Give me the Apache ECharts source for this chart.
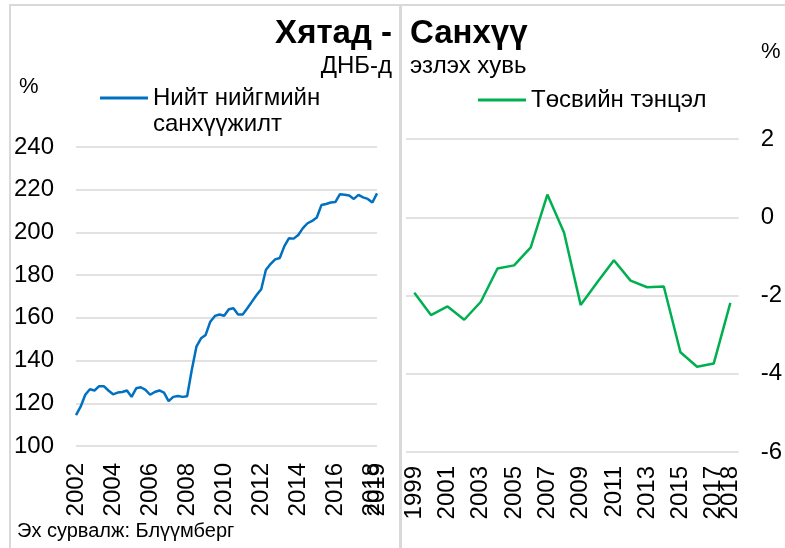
<!DOCTYPE html>
<html>
<head>
<meta charset="utf-8">
<script src="https://cdn.jsdelivr.net/npm/echarts@6/dist/echarts.min.js"></script>
<style>
  html, body { margin: 0; padding: 0; background: #fff; }
  #chart { width: 785px; height: 548px; }
</style>
</head>
<body>
<div id="chart"></div>
<script>
const FONT = '"Liberation Sans", Arial, sans-serif';

// China: total social financing, % of GDP (quarterly from 2002 Q1)
const financeStartYear = 2002;
const financeEndLabel = '2019';
const socialFinance = [
  114.5, 118.4, 124.0, 126.6, 126.0, 128.0, 128.0, 126.0,
  124.2, 125.0, 125.3, 126.0, 123.0, 127.0, 127.5, 126.3,
  124.0, 125.3, 126.0, 125.0, 121.0, 123.0, 123.4, 123.0,
  123.3, 135.6, 146.5, 150.4, 152.0, 158.2, 160.9, 161.6,
  161.0, 164.0, 164.5, 161.6, 161.6, 164.5, 167.6, 170.7,
  173.4, 182.4, 185.2, 187.4, 188.0, 193.6, 197.3, 197.1,
  198.8, 202.0, 204.3, 205.4, 207.0, 212.8, 213.3, 214.0,
  214.2, 217.9, 217.6, 217.3, 215.7, 217.6, 216.4, 215.7,
  214.0, 218.3
];

// China: budget balance, % of GDP (annual)
const budgetYears = [
  '1999', '2000', '2001', '2002', '2003', '2004', '2005', '2006', '2007', '2008',
  '2009', '2010', '2011', '2012', '2013', '2014', '2015', '2016', '2017', '2018'
];
const budgetBalance = [
  -1.93, -2.50, -2.28, -2.62, -2.16, -1.31, -1.23, -0.77, 0.58, -0.39,
  -2.24, -1.66, -1.10, -1.62, -1.79, -1.77, -3.45, -3.82, -3.74, -2.19
];

const financeQuarters = socialFinance.map((v, i) => `${financeStartYear + Math.floor(i / 4)}Q${(i % 4) + 1}`);
const lastFinance = socialFinance.length - 1;
const lastBudget = budgetYears.length - 1;

const gridLine = { show: true, lineStyle: { color: '#d9d9d9', width: 1.5 } };
const labelStyle = { color: '#000', fontSize: 24, fontFamily: FONT };

// bare category axis; the end label sits on its own axis so it can overlap the previous one
function catAxis(gridIndex, data, boundaryGap, margin, interval, formatter) {
  return {
    type: 'category',
    gridIndex,
    data,
    position: 'bottom',
    boundaryGap,
    axisLine: { show: false },
    axisTick: { show: false },
    splitLine: { show: false },
    axisLabel: {
      ...labelStyle,
      rotate: 90,
      margin,
      showMinLabel: true,
      showMaxLabel: true,
      hideOverlap: false,
      interval,
      formatter,
    },
  };
}

const chart = echarts.init(document.getElementById('chart'));

const option = {
  animation: false,
  textStyle: { fontFamily: FONT },
  grid: [
    { left: 76, top: 147, width: 301, height: 299 },
    { left: 406, top: 139, width: 338, height: 313 },
  ],
  legend: [
    {
      data: ['Нийт нийгмийн санхүүжилт'],
      left: 100,
      top: 85,
      padding: 0,
      icon: 'rect',
      itemWidth: 48,
      itemHeight: 3,
      // second line of the label is drawn as graphic text below
      formatter: () => 'Нийт нийгмийн',
      textStyle: { ...labelStyle, lineHeight: 26 },
    },
    {
      data: ['Төсвийн тэнцэл'],
      left: 478,
      top: 87,
      padding: 0,
      icon: 'rect',
      itemWidth: 48,
      itemHeight: 3,
      textStyle: { ...labelStyle, lineHeight: 26 },
    },
  ],
  xAxis: [
    catAxis(0, financeQuarters, false, 17, (i) => i % 8 === 0 && i < lastFinance, (v) => v.slice(0, 4)),
    catAxis(1, budgetYears, true, 14, (i) => i % 2 === 0 && i < lastBudget, (v) => v),
    catAxis(0, financeQuarters, false, 17, (i) => i === lastFinance, () => financeEndLabel),
    catAxis(1, budgetYears, true, 14, (i) => i === lastBudget, (v) => v),
  ],
  yAxis: [
    {
      type: 'value',
      gridIndex: 0,
      min: 100,
      max: 240,
      interval: 20,
      axisLine: { show: false },
      axisTick: { show: false },
      splitLine: gridLine,
      axisLabel: { ...labelStyle, margin: 22 },
    },
    {
      type: 'value',
      gridIndex: 1,
      position: 'right',
      min: -6,
      max: 2,
      interval: 2,
      axisLine: { show: false },
      axisTick: { show: false },
      splitLine: gridLine,
      axisLabel: { ...labelStyle, margin: 22 },
    },
  ],
  series: [
    {
      name: 'Нийт нийгмийн санхүүжилт',
      type: 'line',
      xAxisIndex: 0,
      yAxisIndex: 0,
      data: socialFinance,
      symbol: 'none',
      color: '#0070C0',
      lineStyle: { width: 2.5, color: '#0070C0' },
    },
    {
      name: 'Төсвийн тэнцэл',
      type: 'line',
      xAxisIndex: 1,
      yAxisIndex: 1,
      data: budgetBalance,
      symbol: 'none',
      color: '#00B050',
      lineStyle: { width: 2.5, color: '#00B050' },
    },
  ],
  graphic: [
    // panel frames
    { type: 'rect', shape: { x: 10, y: 5, width: 390, height: 560 }, style: { fill: null, stroke: '#d9d9d9', lineWidth: 2 }, silent: true },
    { type: 'rect', shape: { x: 401, y: 5, width: 400, height: 560 }, style: { fill: null, stroke: '#d9d9d9', lineWidth: 2 }, silent: true },
    // titles
    { type: 'text', right: 785 - 392, top: 17, style: { text: 'Хятад -', font: `bold 33px ${FONT}`, fill: '#000' } },
    { type: 'text', right: 785 - 392, top: 54, style: { text: 'ДНБ-д', font: `24px ${FONT}`, fill: '#000' } },
    { type: 'text', left: 410, top: 17, style: { text: 'Санхүү', font: `bold 33px ${FONT}`, fill: '#000' } },
    { type: 'text', left: 410, top: 54, style: { text: 'эзлэх хувь', font: `24px ${FONT}`, fill: '#000' } },
    // second line of the left legend label
    { type: 'text', left: 153, top: 112, style: { text: 'санхүүжилт', font: `24px ${FONT}`, fill: '#000' } },
    // unit labels
    { type: 'text', left: 19, top: 76, style: { text: '%', font: `22px ${FONT}`, fill: '#000' } },
    { type: 'text', left: 761, top: 41, style: { text: '%', font: `22px ${FONT}`, fill: '#000' } },
    // source
    { type: 'text', left: 17, top: 521, style: { text: 'Эх сурвалж: Блүүмберг', font: `20px ${FONT}`, fill: '#000' } },
  ],
};

chart.setOption(option);
</script>
</body>
</html>
